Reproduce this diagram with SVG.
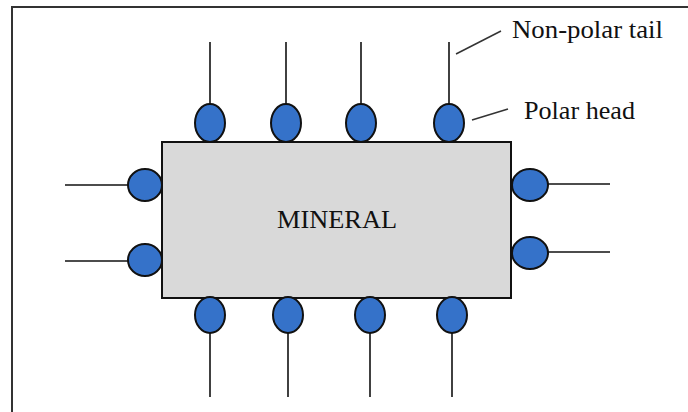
<svg xmlns="http://www.w3.org/2000/svg" width="688" height="412" viewBox="0 0 688 412">
<style>
.frame{fill:none;stroke:#333;stroke-width:2}
.tail{stroke:#111;stroke-width:1.6;fill:none}
.head{fill:#3572c9;stroke:#111;stroke-width:2}
.lead{stroke:#333;stroke-width:1.5;fill:none}
.lbl{font-family:"Liberation Serif","Times New Roman",serif;font-size:25px;fill:#111}
</style>
<rect width="688" height="412" fill="#fff"/>
<rect class="frame" x="12" y="7" width="690" height="420"/>
<g id="mineral">
<rect x="162" y="142" width="349" height="156" fill="#d9d9d9" stroke="#111" stroke-width="2"/>
<text class="lbl" x="277" y="228" textLength="120" lengthAdjust="spacingAndGlyphs">MINERAL</text>
</g>
<g id="connectors">
<line class="tail" x1="210" y1="42" x2="210" y2="104"/>
<line class="tail" x1="286" y1="42" x2="286" y2="104"/>
<line class="tail" x1="361" y1="42" x2="361" y2="104"/>
<line class="tail" x1="449" y1="42" x2="449" y2="104"/>
<line class="tail" x1="210" y1="333" x2="210" y2="397"/>
<line class="tail" x1="288" y1="333" x2="288" y2="397"/>
<line class="tail" x1="370" y1="333" x2="370" y2="397"/>
<line class="tail" x1="452" y1="333" x2="452" y2="397"/>
<line class="tail" x1="65" y1="185" x2="128" y2="185"/>
<line class="tail" x1="65" y1="261" x2="128" y2="261"/>
<line class="tail" x1="548" y1="184" x2="610" y2="184"/>
<line class="tail" x1="548" y1="252" x2="610" y2="252"/>
<line class="lead" x1="456" y1="54" x2="501" y2="31"/>
<line class="lead" x1="472" y1="120" x2="508" y2="109"/>
</g>
<g id="heads-top">
<ellipse class="head" cx="210" cy="123" rx="15" ry="19"/>
<ellipse class="head" cx="286" cy="123" rx="15" ry="19"/>
<ellipse class="head" cx="361" cy="123" rx="15" ry="19"/>
<ellipse class="head" cx="449" cy="123" rx="15" ry="19"/>
</g>
<g id="heads-bottom">
<ellipse class="head" cx="210" cy="315" rx="15" ry="18"/>
<ellipse class="head" cx="288" cy="315" rx="15" ry="18"/>
<ellipse class="head" cx="370" cy="315" rx="15" ry="18"/>
<ellipse class="head" cx="452" cy="315" rx="15" ry="18"/>
</g>
<g id="heads-left">
<ellipse class="head" cx="145" cy="185" rx="17" ry="16"/>
<ellipse class="head" cx="145" cy="260" rx="17" ry="16"/>
</g>
<g id="heads-right">
<ellipse class="head" cx="530" cy="185" rx="18" ry="16"/>
<ellipse class="head" cx="530" cy="253" rx="18" ry="16"/>
</g>
<g id="label-tail">
<text class="lbl" x="512" y="38" textLength="151" lengthAdjust="spacingAndGlyphs">Non-polar tail</text>
</g>
<g id="label-head">
<text class="lbl" x="524" y="119" textLength="111" lengthAdjust="spacingAndGlyphs">Polar head</text>
</g>
</svg>
